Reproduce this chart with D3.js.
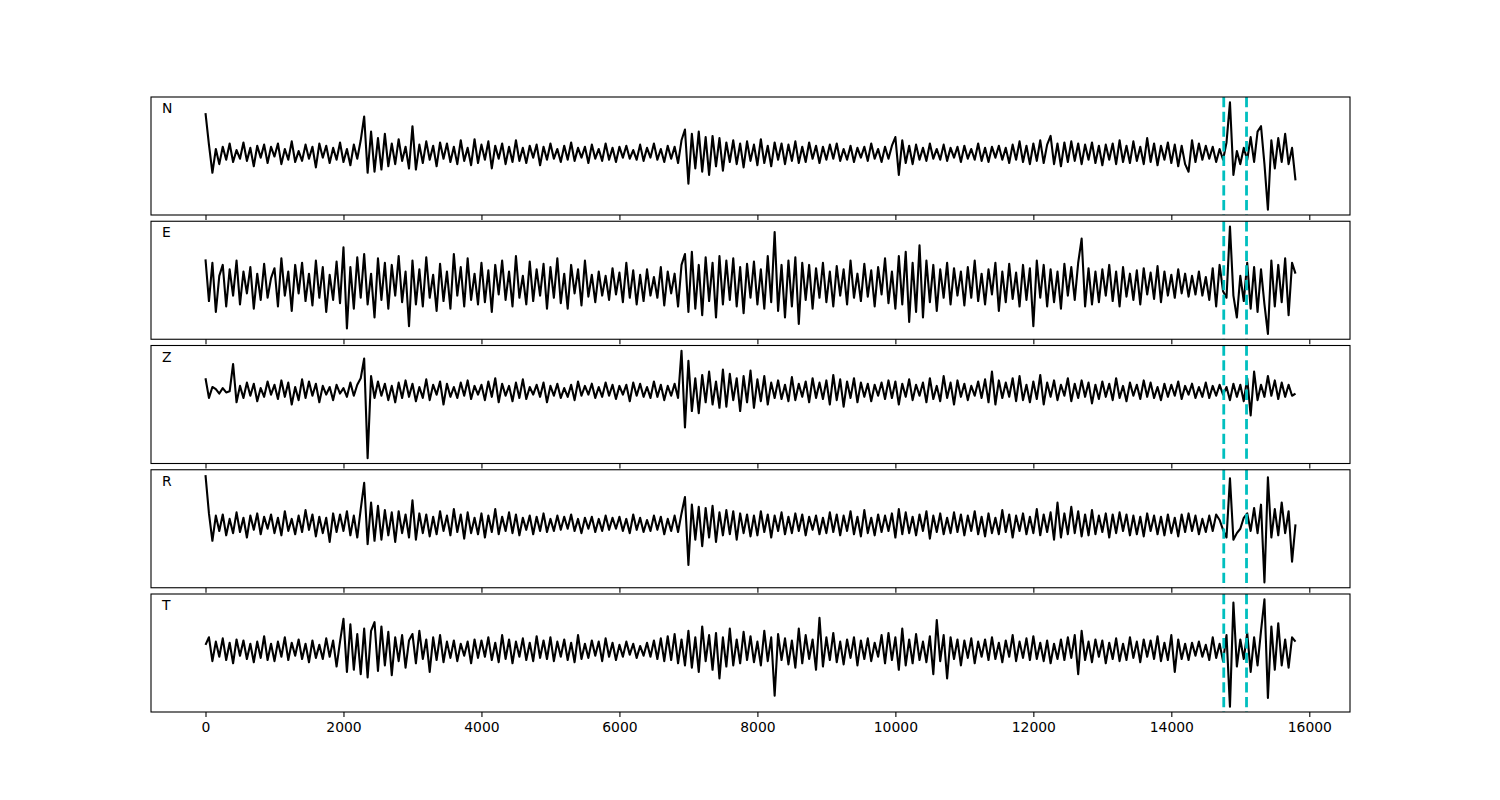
<!DOCTYPE html>
<html>
<head>
<meta charset="utf-8">
<script src="https://cdn.jsdelivr.net/npm/d3@7"></script>
<style>
  body { margin: 0; background: #fff; }
  svg text { font-family: "DejaVu Sans", sans-serif; }
</style>
</head>
<body>
<script>
// channel names, one panel each
const channels = ['N', 'E', 'Z', 'R', 'T'];
// samples are spaced this far apart on the x axis
const sampleStep = 50;
// pick times drawn as dashed lines
const pickTimes = [14760, 15090];
const xTicks = [0, 2000, 4000, 6000, 8000, 10000, 12000, 14000, 16000];

// amplitudes (arbitrary units)
const traceN = [
  37, 8, -18, 4, -10, 6, -6, 9, -8, 3, -5, 10, -7, 5, -12, 7, -4, 8, -9, 6,
  -3, 9, -10, 4, -6, 11, -8, 2, -7, 8, -5, 6, -13, 9, -4, 7, -9, 5, -6, 10,
  -8, 4, -11, 8, -5, 12, 34, -18, 20, -17, 14, -15, 18, -12, 9, -10, 13, -7, 6, -14,
  25, -15, 8, -9, 11, -6, 7, -12, 10, -5, 9, -8, 6, -10, 12, -7, 5, -11, 13, -9,
  8, -6, 11, -14, 7, -5, 9, -10, 6, -8, 12, -7, 5, -9, 7, -4, 8, -11, 6, -6,
  9, -5, 4, -8, 7, -6, 10, -7, 5, -4, 6, -9, 8, -5, 4, -7, 9, -6, 5, -8,
  6, -4, 7, -5, 3, -6, 8, -7, 5, -4, 9, -6, 4, -8, 7, -5, 6, -9, 12, 22,
  -28, 18, -14, 20, -17, 15, -20, 16, -12, 14, -16, 10, -8, 12, -10, 9, -13, 11, -7, 8,
  -11, 13, -9, 7, -12, 10, -6, 9, -10, 8, -7, 11, -9, 6, -8, 10, -5, 7, -9, 6,
  -6, 8, -5, 9, -7, 4, -6, 7, -8, 5, -4, 6, -7, 9, -5, 4, -8, 6, -5, 7,
  15, -20, 12, -9, 7, -10, 8, -6, 5, -7, 9, -5, 4, -6, 8, -7, 5, -4, 6, -8,
  7, -5, 4, -6, 9, -7, 5, -8, 6, -4, 7, -6, 5, -9, 8, -6, 11, -8, 7, -10,
  9, -7, 12, -9, 8, 16, -10, 9, -12, 10, -8, 11, -7, 9, -10, 8, -6, 10, -9, 7,
  -11, 8, -6, 9, -10, 12, -8, 7, -9, 11, -7, 6, -10, 14, -8, 9, -11, 7, -6, 10,
  -9, 8, -12, 7, -10, -17, 12, -8, 9, -6, 7, -5, 6, -8, 4, -6, 10, 47, -20, 2,
  -10, 5, -6, 15, -8, 20, 25, -10, -52, 12, -14, 14, -8, 18, -10, 5, -25
];
const traceE = [
  23, -15, 20, -25, 8, 18, -20, 14, -10, 22, -18, 12, -8, 16, -22, 10, -14, 19, -12, 6,
  15, -20, 24, -10, 12, -24, 18, -8, 20, -15, 10, -19, 22, -12, 16, -25, 9, -14, 21, -17,
  34, -40, 16, -22, 25, -12, 28, -18, 10, -30, 24, -14, 20, -22, 18, -10, 26, -16, 12, -38,
  22, -18, 14, -20, 25, -12, 9, -24, 19, -15, 12, -22, 28, -10, 16, -20, 24, -14, 10, -18,
  20, -16, 13, -25, 18, -9, 22, -14, 12, -20, 26, -12, 8, -18, 21, -15, 14, -10, 19, -22,
  16, -12, 24, -17, 10, -22, 18, -8, 14, -19, 22, -11, 9, -16, 12, -10, 8, -14, 15, -9,
  11, -16, 20, -12, 13, -18, 9, -15, 14, -10, 7, -12, 16, -19, 12, -8, 10, -20, 18, 28,
  -25, 30, -22, 18, -28, 25, -15, 20, -30, 26, -18, 22, -14, 24, -20, 16, -26, 19, -12, 21,
  -18, 14, -22, 26, -16, 48, -24, 18, -30, 22, -20, 25, -36, 20, -14, 18, -22, 15, -12, 20,
  -16, 12, -20, 17, -10, 14, -18, 22, -12, 10, -15, 19, -11, 13, -20, 16, -9, 24, -17, 12,
  -22, 26, -18, 30, -34, 20, -25, 36, -30, 22, -16, 18, -24, 14, -12, 20, -18, 15, -10, 12,
  -19, 16, -12, 22, -15, 10, -18, 14, -9, 20, -24, 12, -16, 19, -13, 11, -20, 18, -14, 15,
  -38, 22, -12, 18, -20, 14, -16, 12, -22, 19, -10, 16, -14, 20, 42, -20, 15, -18, 12, -16,
  14, -10, 18, -15, 12, -20, 16, -11, 10, -14, 13, -18, 15, -9, 11, -13, 17, -16, 12, -10,
  9, -12, 14, -8, 10, -11, 8, -9, 12, -10, 7, -14, 15, -20, 18, -6, -12, 53, -10, -30,
  8, -15, 20, -22, 16, -25, 14, -18, -45, 22, -20, 18, -16, 24, -28, 20, 10
];
const traceZ = [
  12, -6, 4, 2, -2, 3, -1, 0, 25, -10, 5, -6, 8, -4, 7, -9, 3, -5, 9, -3,
  6, -7, 10, -5, 8, -12, 4, -8, 11, -6, 9, -4, 7, -10, 5, -3, 4, -8, 6, -2,
  3, -5, 8, -4, 6, 12, 30, -61, 14, -6, 9, -4, 7, -8, 5, -10, 8, -6, 10, -5,
  7, -9, 4, -6, 11, -8, 6, -3, 9, -12, 7, -5, 4, -6, 8, -4, 10, -7, 5, -3,
  6, -8, 9, -5, 12, -10, 7, -4, 5, -9, 8, -6, 11, -7, 4, -3, 6, -5, 8, -10,
  5, -4, 7, -6, 3, -5, 6, -8, 9, -4, 5, -3, 7, -6, 4, -5, 8, -4, 6, -7,
  5, -3, 6, -9, 8, -4, 7, -5, 4, -6, 9, -5, 6, -8, 5, -4, 7, -6, 37, -33,
  28, -18, 12, -20, 15, -10, 18, -12, 9, -15, 20, -14, 16, -8, 12, -18, 14, -10, 19, -15,
  11, -9, 14, -12, 8, -6, 10, -7, 6, -9, 13, -8, 7, -5, 9, -10, 12, -6, 8, -7,
  10, -12, 15, -8, 11, -14, 9, -6, 12, -10, 8, -5, 7, -9, 6, -4, 8, -7, 10, -6,
  9, -12, 7, -5, 11, -8, 6, -4, 8, -10, 12, -7, 5, -9, 14, -6, 8, -12, 10, -5,
  7, -8, 5, -4, 9, -6, 11, -10, 18, -12, 10, -6, 8, -5, 12, -9, 14, -8, 6, -10,
  9, -7, 15, -12, 8, -5, 10, -8, 6, -4, 12, -9, 7, -6, 10, -5, 8, -11, 6, -7,
  9, -5, 7, -8, 12, -6, 5, -9, 8, -4, 6, -7, 10, -5, 8, -6, 4, -8, 7, -5,
  6, -4, 9, -7, 5, -3, 7, -6, 4, -5, 8, -6, 5, -4, 6, -3, 4, -8, 7, -5,
  6, -9, 12, -22, 18, -8, 6, -5, 14, -4, 10, -7, 8, -5, 6, -4, -2
];
const traceR = [
  45, 10, -15, 8, -6, 9, -10, 5, -8, 11, -7, 6, -12, 8, -5, 10, -9, 7, -4, 9,
  -8, 6, -10, 12, -6, 5, -9, 8, -7, 13, -5, 9, -11, 7, -8, 6, -16, 10, -7, 9,
  -6, 12, -10, 8, -12, 14, 38, -18, 20, -15, 17, -14, 13, -10, 11, -16, 12, -8, 9, -12,
  22, -14, 10, -8, 9, -11, 7, -9, 12, -6, 8, -10, 14, -7, 9, -13, 11, -8, 6, -9,
  10, -12, 8, -7, 14, -9, 7, -6, 11, -8, 9, -10, 6, -5, 8, -9, 7, -6, 10, -7,
  5, -6, 8, -5, 7, -4, 9, -6, 5, -8, 6, -4, 7, -7, 5, -6, 8, -5, 6, -4,
  7, -6, 5, -8, 9, -5, 6, -7, 4, -6, 8, -5, 7, -9, 5, -6, 8, -7, 10, 25,
  -37, 18, -14, 16, -20, 15, -12, 17, -16, 11, -10, 13, -9, 12, -14, 10, -8, 9, -11, 8,
  -10, 12, -7, 9, -12, 8, -6, 11, -9, 7, -8, 10, -6, 9, -10, 7, -5, 8, -9, 6,
  -8, 11, -7, 9, -10, 8, -6, 12, -9, 7, -11, 13, -8, 6, -10, 9, -7, 8, -6, 10,
  -12, 14, -9, 11, -8, 7, -10, 9, -6, 12, -13, 8, -7, 10, -9, 6, -8, 11, -7, 9,
  -10, 8, -6, 12, -9, 7, -11, 10, -8, 6, -9, 13, -7, 9, -12, 8, -6, 10, -9, 7,
  -8, 14, -10, 9, -7, 11, -14, 20, -12, 10, -9, 16, -8, 12, -11, 9, -10, 13, -9, 8,
  -7, 10, -12, 9, -8, 11, -6, 9, -10, 8, -9, 7, -11, 10, -6, 8, -9, 7, -10, 9,
  -8, 6, -11, 9, -7, 10, -6, 8, -9, 5, -7, 8, -6, 9, 4, -5, -12, 42, -14, -8,
  -4, 6, 10, -6, 15, -8, 18, -53, 43, -12, 14, -10, 20, -8, 12, -34, 0
];
const traceT = [
  5, 12, -10, 8, -6, 11, -9, 7, -12, 10, -5, 9, -8, 6, -11, 8, -7, 13, -9, 6,
  -10, 8, -6, 12, -9, 7, -5, 10, -8, 6, -11, 9, -7, 5, -8, 11, -6, 9, -15, 8,
  29, -20, 24, -18, 15, -22, 20, -25, 18, 26, -19, 22, -14, 17, -23, 12, -10, 14, -16, 9,
  15, -12, 18, -8, 10, -20, 12, -9, 14, -11, 8, -7, 9, -10, 6, -5, 8, -12, 10, -7,
  9, -6, 12, -9, 7, -11, 14, -8, 10, -12, 8, -6, 11, -9, 7, -10, 13, -7, 9, -8,
  12, -10, 8, -6, 10, -9, 7, -11, 14, -8, 6, -7, 9, -5, 8, -10, 11, -6, 7, -9,
  5, -6, 8, -4, 6, -7, 4, -5, 7, -6, 9, -8, 11, -10, 13, -9, 15, -12, 10, -14,
  18, -16, 12, -20, 22, -10, 14, -18, 16, -26, 12, -15, 20, -14, 10, -12, 17, -9, 13, -11,
  8, -14, 18, -10, 12, -42, 15, -9, 11, -13, 9, -16, 20, -12, 14, -8, 10, -18, 30, -15,
  12, -9, 16, -11, 8, -13, 10, -7, 12, -14, 9, -8, 11, -10, 7, -6, 14, -12, 16, -9,
  12, -18, 20, -14, 10, -12, 15, -9, 8, -11, 13, -22, 28, -10, 14, -26, 12, -8, 10, -14,
  9, -7, 11, -12, 8, -6, 10, -9, 12, -8, 7, -11, 9, -6, 14, -10, 8, -7, 11, -9,
  13, -8, 7, -10, 9, -12, 6, -8, 10, -9, 12, -7, 14, -22, 18, -9, 8, -11, 10, -6,
  9, -12, 7, -8, 11, -10, 6, -9, 12, -7, 8, -11, 10, -6, 9, -8, 13, -10, 7, -9,
  14, -20, 10, -8, 6, -9, 7, -5, 8, -6, 5, -9, 12, -7, 6, -10, 14, -52, 44, -15,
  10, -8, 16, -20, 12, -14, 18, 47, -44, 22, -18, 25, -14, 10, -16, 12, 8
];
const traces = [traceN, traceE, traceZ, traceR, traceT];

const WIDTH = 1500;
const HEIGHT = 800;
const PLOT_LEFT = 151;
const PLOT_RIGHT = 1350;
const PLOT_TOP = 97;
const PANEL_HEIGHT = 118;
const PANEL_GAP = 6.25;

const svg = d3.select('body')
  .append('svg')
  .attr('width', WIDTH)
  .attr('height', HEIGHT);

// matplotlib style 5% margins on x
const xMax = sampleStep * (d3.max(traces, t => t.length) - 1);
const xPad = xMax * 0.05;
const x = d3.scaleLinear()
  .domain([-xPad, xMax + xPad])
  .range([PLOT_LEFT, PLOT_RIGHT]);

channels.forEach(function (name, k) {
  const data = traces[k];
  const top = PLOT_TOP + k * (PANEL_HEIGHT + PANEL_GAP);
  const ext = d3.extent(data);
  const yPad = (ext[1] - ext[0]) * 0.05;
  const y = d3.scaleLinear()
    .domain([ext[0] - yPad, ext[1] + yPad])
    .range([top + PANEL_HEIGHT, top]);

  const g = svg.append('g');

  const line = d3.line()
    .x((d, i) => x(i * sampleStep))
    .y(d => y(d));

  g.append('path')
    .datum(data)
    .attr('fill', 'none')
    .attr('stroke', '#000')
    .attr('stroke-width', 2.1)
    .attr('stroke-linejoin', 'round')
    .attr('d', line);

  // dashed picks across the whole panel
  g.selectAll('line.pick')
    .data(pickTimes)
    .enter()
    .append('line')
    .attr('x1', d => x(d))
    .attr('x2', d => x(d))
    .attr('y1', top)
    .attr('y2', top + PANEL_HEIGHT)
    .attr('stroke', '#00bfbf')
    .attr('stroke-width', 2.8)
    .attr('stroke-dasharray', '10.3,4.4');

  const axis = d3.axisBottom(x)
    .tickValues(xTicks)
    .tickSize(4.9)
    .tickPadding(4.9)
    .tickFormat(k === channels.length - 1 ? d3.format('d') : '');

  const ax = g.append('g')
    .attr('transform', 'translate(0,' + (top + PANEL_HEIGHT) + ')')
    .call(axis);
  ax.select('.domain').remove();
  ax.selectAll('line').attr('stroke', '#000').attr('stroke-width', 1.1);
  ax.selectAll('text')
    .attr('fill', '#000')
    .style('font-size', '13.9px');

  g.append('rect')
    .attr('x', PLOT_LEFT)
    .attr('y', top)
    .attr('width', PLOT_RIGHT - PLOT_LEFT)
    .attr('height', PANEL_HEIGHT)
    .attr('fill', 'none')
    .attr('stroke', '#000')
    .attr('stroke-width', 1.1);

  g.append('text')
    .attr('x', PLOT_LEFT + 11)
    .attr('y', top + 16)
    .style('font-size', '13.9px')
    .attr('fill', '#000')
    .text(name);
});
</script>
</body>
</html>
